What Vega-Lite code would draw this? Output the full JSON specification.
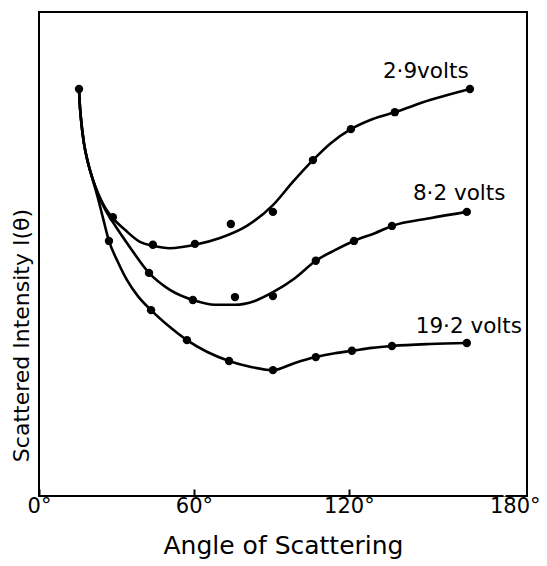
{
  "$schema": "https://vega.github.io/schema/vega-lite/v6.json",
  "autosize": "none",
  "width": 488,
  "height": 484,
  "padding": {"left": 39, "top": 12, "right": 20, "bottom": 70},
  "background": "white",
  "config": {
    "view": {"stroke": "black", "strokeWidth": 2},
    "font": "DejaVu Sans"
  },
  "datasets": {
    "curves": [
      {"series": "2.9", "angle": 15.5, "intensity": 84.1},
      {"series": "2.9", "angle": 15.7, "intensity": 81.8},
      {"series": "2.9", "angle": 16.3, "intensity": 77.7},
      {"series": "2.9", "angle": 17.4, "intensity": 72.9},
      {"series": "2.9", "angle": 19.0, "intensity": 68.8},
      {"series": "2.9", "angle": 20.9, "intensity": 65.3},
      {"series": "2.9", "angle": 22.8, "intensity": 62.6},
      {"series": "2.9", "angle": 25.5, "intensity": 59.7},
      {"series": "2.9", "angle": 28.6, "intensity": 57.4},
      {"series": "2.9", "angle": 33.3, "intensity": 55.0},
      {"series": "2.9", "angle": 39.1, "intensity": 52.5},
      {"series": "2.9", "angle": 44.1, "intensity": 51.7},
      {"series": "2.9", "angle": 50.7, "intensity": 51.2},
      {"series": "2.9", "angle": 60.4, "intensity": 51.9},
      {"series": "2.9", "angle": 70.1, "intensity": 53.3},
      {"series": "2.9", "angle": 80.5, "intensity": 55.8},
      {"series": "2.9", "angle": 90.6, "intensity": 60.1},
      {"series": "2.9", "angle": 98.3, "intensity": 64.9},
      {"series": "2.9", "angle": 106.1, "intensity": 69.4},
      {"series": "2.9", "angle": 113.0, "intensity": 72.9},
      {"series": "2.9", "angle": 120.8, "intensity": 75.8},
      {"series": "2.9", "angle": 129.3, "intensity": 77.9},
      {"series": "2.9", "angle": 137.8, "intensity": 79.3},
      {"series": "2.9", "angle": 151.4, "intensity": 81.8},
      {"series": "2.9", "angle": 166.9, "intensity": 84.1},

      {"series": "8.2", "angle": 15.5, "intensity": 84.1},
      {"series": "8.2", "angle": 15.7, "intensity": 81.8},
      {"series": "8.2", "angle": 16.3, "intensity": 77.7},
      {"series": "8.2", "angle": 17.4, "intensity": 72.9},
      {"series": "8.2", "angle": 19.0, "intensity": 68.8},
      {"series": "8.2", "angle": 20.9, "intensity": 65.3},
      {"series": "8.2", "angle": 22.8, "intensity": 62.5},
      {"series": "8.2", "angle": 25.5, "intensity": 59.3},
      {"series": "8.2", "angle": 28.6, "intensity": 56.6},
      {"series": "8.2", "angle": 35.2, "intensity": 51.4},
      {"series": "8.2", "angle": 42.6, "intensity": 46.1},
      {"series": "8.2", "angle": 50.7, "intensity": 42.6},
      {"series": "8.2", "angle": 59.6, "intensity": 40.5},
      {"series": "8.2", "angle": 68.1, "intensity": 39.5},
      {"series": "8.2", "angle": 75.9, "intensity": 39.5},
      {"series": "8.2", "angle": 83.6, "intensity": 40.3},
      {"series": "8.2", "angle": 90.6, "intensity": 42.1},
      {"series": "8.2", "angle": 99.1, "intensity": 45.0},
      {"series": "8.2", "angle": 107.2, "intensity": 48.6},
      {"series": "8.2", "angle": 114.6, "intensity": 50.8},
      {"series": "8.2", "angle": 121.9, "intensity": 52.7},
      {"series": "8.2", "angle": 130.1, "intensity": 54.3},
      {"series": "8.2", "angle": 136.7, "intensity": 55.8},
      {"series": "8.2", "angle": 151.4, "intensity": 57.4},
      {"series": "8.2", "angle": 165.7, "intensity": 58.7},

      {"series": "19.2", "angle": 15.5, "intensity": 84.1},
      {"series": "19.2", "angle": 15.7, "intensity": 81.8},
      {"series": "19.2", "angle": 16.3, "intensity": 77.7},
      {"series": "19.2", "angle": 17.4, "intensity": 72.9},
      {"series": "19.2", "angle": 19.0, "intensity": 68.8},
      {"series": "19.2", "angle": 20.9, "intensity": 65.2},
      {"series": "19.2", "angle": 22.8, "intensity": 61.6},
      {"series": "19.2", "angle": 24.8, "intensity": 57.4},
      {"series": "19.2", "angle": 27.1, "intensity": 52.7},
      {"series": "19.2", "angle": 30.6, "intensity": 48.3},
      {"series": "19.2", "angle": 34.1, "intensity": 44.6},
      {"series": "19.2", "angle": 38.3, "intensity": 41.3},
      {"series": "19.2", "angle": 43.4, "intensity": 38.4},
      {"series": "19.2", "angle": 50.7, "intensity": 34.9},
      {"series": "19.2", "angle": 57.3, "intensity": 32.2},
      {"series": "19.2", "angle": 65.0, "intensity": 29.8},
      {"series": "19.2", "angle": 73.6, "intensity": 27.9},
      {"series": "19.2", "angle": 81.7, "intensity": 26.7},
      {"series": "19.2", "angle": 90.6, "intensity": 26.0},
      {"series": "19.2", "angle": 99.1, "intensity": 27.5},
      {"series": "19.2", "angle": 107.2, "intensity": 28.7},
      {"series": "19.2", "angle": 114.6, "intensity": 29.5},
      {"series": "19.2", "angle": 121.2, "intensity": 30.0},
      {"series": "19.2", "angle": 128.9, "intensity": 30.6},
      {"series": "19.2", "angle": 136.7, "intensity": 31.0},
      {"series": "19.2", "angle": 151.4, "intensity": 31.4},
      {"series": "19.2", "angle": 165.7, "intensity": 31.6}
    ],
    "points": [
      {"series": "2.9", "angle": 15.5, "intensity": 84.1},
      {"series": "2.9", "angle": 28.6, "intensity": 57.6},
      {"series": "2.9", "angle": 44.1, "intensity": 51.9},
      {"series": "2.9", "angle": 60.4, "intensity": 52.1},
      {"series": "2.9", "angle": 74.3, "intensity": 56.2},
      {"series": "2.9", "angle": 90.6, "intensity": 58.7},
      {"series": "2.9", "angle": 106.1, "intensity": 69.4},
      {"series": "2.9", "angle": 120.8, "intensity": 75.8},
      {"series": "2.9", "angle": 137.8, "intensity": 79.3},
      {"series": "2.9", "angle": 166.9, "intensity": 84.1},
      {"series": "8.2", "angle": 42.6, "intensity": 46.1},
      {"series": "8.2", "angle": 59.6, "intensity": 40.5},
      {"series": "8.2", "angle": 75.9, "intensity": 41.1},
      {"series": "8.2", "angle": 90.6, "intensity": 41.3},
      {"series": "8.2", "angle": 107.2, "intensity": 48.6},
      {"series": "8.2", "angle": 122.0, "intensity": 52.7},
      {"series": "8.2", "angle": 136.7, "intensity": 55.8},
      {"series": "8.2", "angle": 165.7, "intensity": 58.7},
      {"series": "19.2", "angle": 27.1, "intensity": 52.7},
      {"series": "19.2", "angle": 43.4, "intensity": 38.4},
      {"series": "19.2", "angle": 57.3, "intensity": 32.2},
      {"series": "19.2", "angle": 73.6, "intensity": 27.9},
      {"series": "19.2", "angle": 90.6, "intensity": 26.0},
      {"series": "19.2", "angle": 107.2, "intensity": 28.7},
      {"series": "19.2", "angle": 121.2, "intensity": 30.0},
      {"series": "19.2", "angle": 136.7, "intensity": 31.0},
      {"series": "19.2", "angle": 165.7, "intensity": 31.6}
    ],
    "labels": [
      {"label": "2·9volts", "angle": 133.2, "intensity": 86.4},
      {"label": "8·2 volts", "angle": 144.8, "intensity": 61.2},
      {"label": "19·2 volts", "angle": 145.9, "intensity": 33.7}
    ]
  },
  "layer": [
    {
      "data": {"name": "curves"},
      "mark": {"type": "line", "interpolate": "monotone", "color": "black", "strokeWidth": 2.6},
      "encoding": {
        "x": {
          "field": "angle", "type": "quantitative",
          "scale": {"domain": [0, 189], "nice": false, "zero": false},
          "axis": {
            "values": [0, 60, 120, 180],
            "title": "Angle of Scattering",
            "titleFontSize": 25,
            "titleFontWeight": "normal",
            "titleColor": "black",
            "titleBaseline": "alphabetic",
            "titleY": 57,
            "titleX": 244,
            "labelExpr": "datum.value + '°'",
            "labelFontSize": 21,
            "labelColor": "black",
            "labelBaseline": "alphabetic",
            "labelPadding": 23,
            "labelOffset": {"expr": "datum.value == 180 ? 11 : 0"},
            "labelFlush": false,
            "ticks": true,
            "tickSize": -7,
            "tickColor": {"condition": {"test": "datum.value == 180", "value": "white"}, "value": "black"},
            "tickWidth": 2,
            "domain": false,
            "grid": false
          }
        },
        "y": {
          "field": "intensity", "type": "quantitative",
          "scale": {"domain": [0, 100], "nice": false, "zero": false},
          "axis": {
            "title": "Scattered Intensity I(θ)",
            "titleFontSize": 22,
            "titleFontWeight": "normal",
            "titleColor": "black",
            "titleBaseline": "alphabetic",
            "titleAngle": -90,
            "titleX": -11,
            "titleY": 323,
            "labels": false,
            "ticks": false,
            "domain": false,
            "grid": false
          }
        },
        "detail": {"field": "series"}
      }
    },
    {
      "data": {"name": "points"},
      "mark": {"type": "circle", "color": "black", "opacity": 1, "size": 70},
      "encoding": {
        "x": {"field": "angle", "type": "quantitative"},
        "y": {"field": "intensity", "type": "quantitative"}
      }
    },
    {
      "data": {"name": "labels"},
      "mark": {"type": "text", "align": "left", "baseline": "alphabetic", "fontSize": 21.5, "color": "black"},
      "encoding": {
        "x": {"field": "angle", "type": "quantitative"},
        "y": {"field": "intensity", "type": "quantitative"},
        "text": {"field": "label"}
      }
    }
  ]
}
